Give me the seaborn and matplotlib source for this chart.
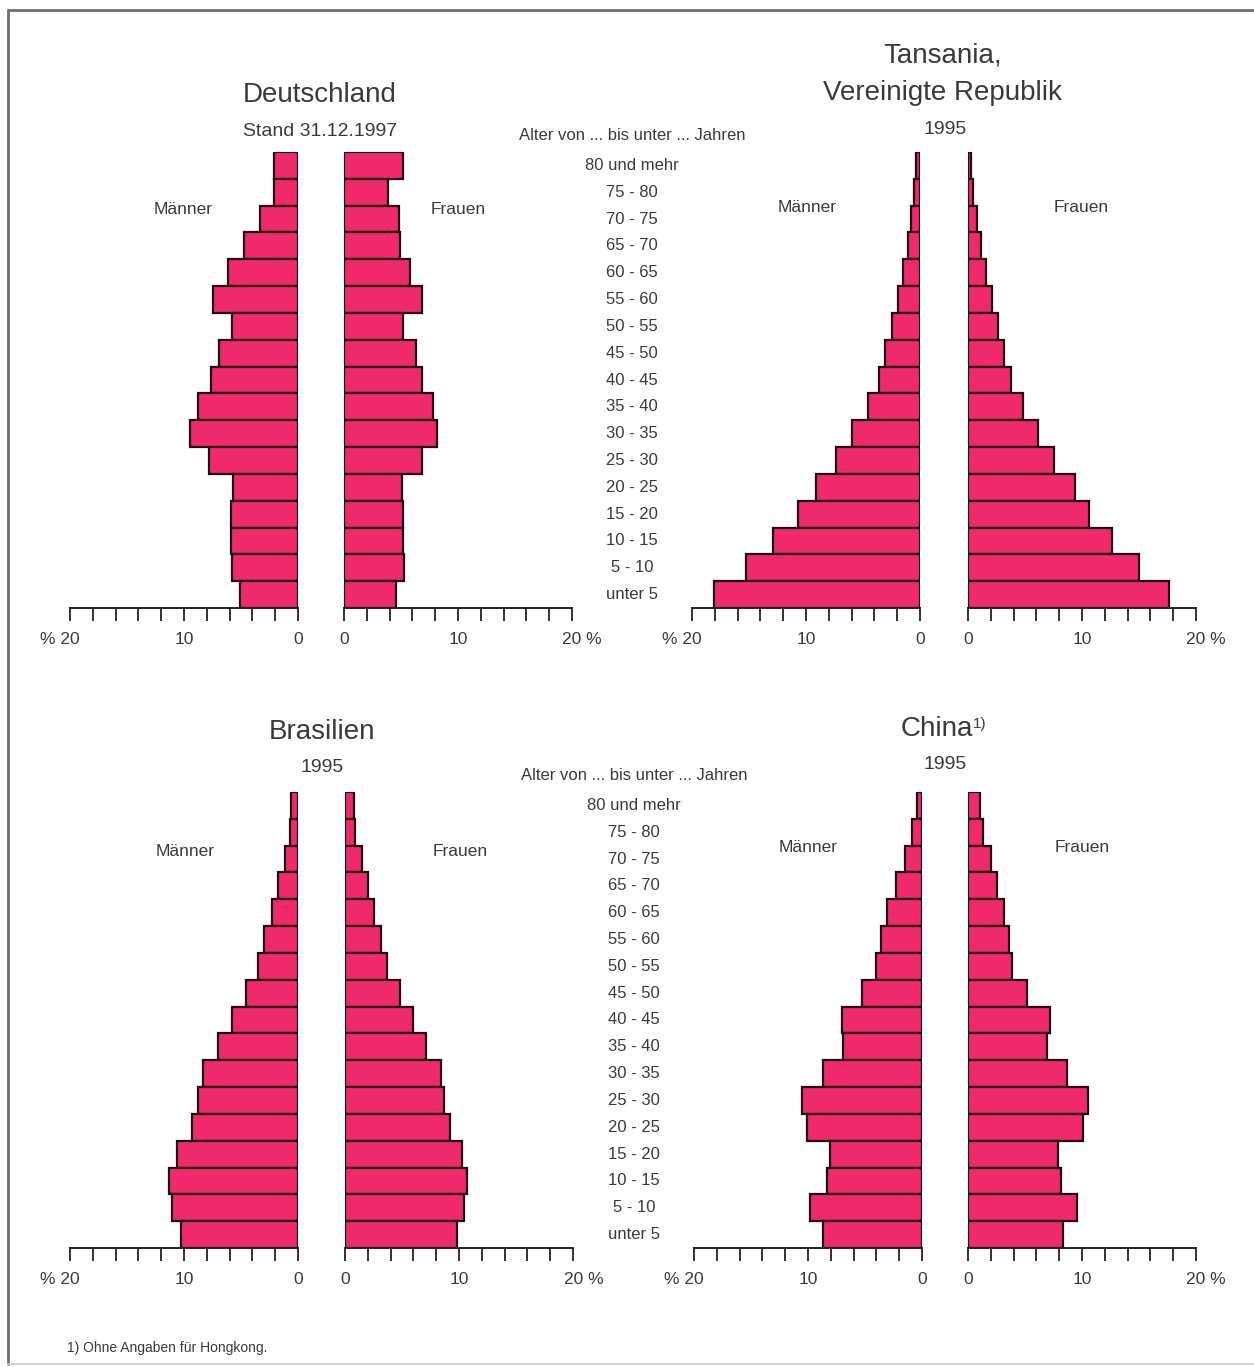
"""Bevölkerungspyramiden: Deutschland, Tansania, Brasilien, China."""

import matplotlib

matplotlib.use("Agg")
import matplotlib.pyplot as plt
import matplotlib.transforms as mtransforms
import pandas as pd
import seaborn as sns
from matplotlib.lines import Line2D

AGES = [
    "80 und mehr", "75 - 80", "70 - 75", "65 - 70", "60 - 65", "55 - 60",
    "50 - 55", "45 - 50", "40 - 45", "35 - 40", "30 - 35", "25 - 30",
    "20 - 25", "15 - 20", "10 - 15", "5 - 10", "unter 5",
]

# percent of population, top (80+) to bottom (unter 5)
DE_MEN = [2.1, 2.1, 3.3, 4.7, 6.1, 7.5, 5.8, 6.9, 7.6, 8.8, 9.5, 7.8, 5.7, 5.9, 5.9, 5.8, 5.1]
DE_WOMEN = [5.2, 3.9, 4.8, 4.9, 5.8, 6.8, 5.2, 6.3, 6.8, 7.8, 8.2, 6.8, 5.1, 5.2, 5.2, 5.3, 4.6]
TZ_MEN = [0.35, 0.5, 0.8, 1.05, 1.5, 1.9, 2.5, 3.1, 3.6, 4.6, 6.0, 7.4, 9.1, 10.7, 12.9, 15.3, 18.1]
TZ_WOMEN = [0.3, 0.45, 0.8, 1.15, 1.6, 2.1, 2.6, 3.2, 3.8, 4.8, 6.1, 7.5, 9.4, 10.6, 12.6, 15.0, 17.6]
BR_MEN = [0.6, 0.7, 1.1, 1.75, 2.3, 3.0, 3.5, 4.6, 5.8, 7.0, 8.3, 8.8, 9.3, 10.6, 11.3, 11.05, 10.3]
BR_WOMEN = [0.8, 0.9, 1.5, 2.0, 2.5, 3.2, 3.7, 4.8, 6.0, 7.1, 8.4, 8.7, 9.2, 10.3, 10.7, 10.4, 9.8]
CN_MEN = [0.45, 0.9, 1.5, 2.3, 3.1, 3.6, 4.0, 5.3, 7.0, 6.9, 8.7, 10.5, 10.1, 8.1, 8.3, 9.8, 8.7]
CN_WOMEN = [1.05, 1.3, 2.0, 2.5, 3.2, 3.6, 3.9, 5.2, 7.2, 6.9, 8.7, 10.5, 10.1, 7.9, 8.2, 9.6, 8.3]

BAR = "#ee2a6c"
EDGE = "#22080f"
INK = "#3a3a3a"
W, H = 1254, 1367

sns.set_style("white")
plt.rcParams["font.family"] = ["Liberation Sans", "DejaVu Sans"]

fig = plt.figure(figsize=(W / 100, H / 100), dpi=100)


def px_box(x0, x1, ytop, ybot):
    return [x0 / W, 1 - ybot / H, (x1 - x0) / W, (ybot - ytop) / H]


def ftext(x, y, s, size, **kw):
    return fig.text(x / W, 1 - y / H, s, ha=kw.pop("ha", "center"), va=kw.pop("va", "center"),
                    fontsize=size, color=INK, **kw)


def draw_half(box, values, side):
    ax = fig.add_axes(px_box(*box))
    df = pd.DataFrame({"age": AGES, "pct": values})
    sns.barplot(data=df, x="pct", y="age", orient="h", color=BAR, saturation=1,
                edgecolor=EDGE, linewidth=1.6, width=1.0, ax=ax)
    ax.set_ylim(len(AGES) - 0.5, -0.5)
    ax.set_xlim((20, 0) if side == "m" else (0, 20))
    for s in ("left", "top", "right"):
        ax.spines[s].set_visible(False)
    ax.spines["bottom"].set_color("#222")
    ax.spines["bottom"].set_linewidth(1.4)
    ax.set(xlabel=None, ylabel=None)
    ax.set_yticks([])
    ax.set_xticks([0, 10, 20])
    ax.set_xticks(range(2, 20, 2), minor=True)
    ax.tick_params(axis="x", which="both", direction="out", length=9, width=1.3,
                   color="#222", bottom=True)
    ax.tick_params(axis="x", which="major", labelsize=12.5, labelcolor=INK, pad=8)
    if side == "m":
        labels = ["0", "10", "% 20"]
    else:
        labels = ["0", "10", "20 %"]
    ax.set_xticklabels(labels)
    shift = 9.5 / 100
    for lab in ax.get_xticklabels():
        if lab.get_text() == "% 20":
            lab.set_ha("right")
            lab.set_transform(lab.get_transform() + mtransforms.ScaledTranslation(shift, 0, fig.dpi_scale_trans))
        elif lab.get_text() == "20 %":
            lab.set_ha("left")
            lab.set_transform(lab.get_transform() + mtransforms.ScaledTranslation(-shift, 0, fig.dpi_scale_trans))
    return ax


# top row
de_w = draw_half((344, 572, 152, 608), DE_WOMEN, "w")
draw_half((70, 298, 152, 608), DE_MEN, "m")
draw_half((692, 920, 152, 608), TZ_MEN, "m")
draw_half((968, 1196, 152, 608), TZ_WOMEN, "w")
# bottom row
br_w = draw_half((345, 573, 792, 1248), BR_WOMEN, "w")
draw_half((70, 298, 792, 1248), BR_MEN, "m")
draw_half((694, 922, 792, 1248), CN_MEN, "m")
draw_half((968, 1196, 792, 1248), CN_WOMEN, "w")

# age labels in the middle column, aligned with the bar categories
for ax, xc, yh in ((de_w, 632, 135), (br_w, 634, 775)):
    trans = mtransforms.blended_transform_factory(fig.transFigure, ax.transData)
    for i, age in enumerate(AGES):
        ax.text(xc / W, i, age, transform=trans, ha="center", va="center",
                fontsize=12, color=INK, clip_on=False)
    ftext(xc, yh, "Alter von ... bis unter ... Jahren", 12)

# titles
ftext(320, 95, "Deutschland", 20)
ftext(320, 131, "Stand 31.12.1997", 14)
ftext(943, 56, "Tansania,", 20)
ftext(943, 93, "Vereinigte Republik", 20)
ftext(945, 129, "1995", 14)
ftext(322, 732, "Brasilien", 20)
ftext(322, 767, "1995", 14)
china = ftext(937, 729, "China", 20)
fig.add_artist(plt.Annotation("1)", xy=(1, 1), xycoords=china, xytext=(0, -1),
                              textcoords="offset points", ha="left", va="top",
                              fontsize=11, color=INK))
ftext(945, 765, "1995", 14)

# Männer / Frauen
for x, y, s in ((183, 210, "Männer"), (458, 209, "Frauen"),
                (807, 208, "Männer"), (1081, 208, "Frauen"),
                (185, 851, "Männer"), (460, 851, "Frauen"),
                (808, 848, "Männer"), (1082, 847, "Frauen")):
    ftext(x, y, s, 12.5)

ftext(67, 1348, "1) Ohne Angaben für Hongkong.", 10, ha="left")

# frame
frame = dict(transform=fig.transFigure, color="#6e6e6e", linewidth=2)
fig.add_artist(Line2D([8 / W, 1], [1 - 10 / H, 1 - 10 / H], **frame))
fig.add_artist(Line2D([8 / W, 8 / W], [1 - 10 / H, 1 - 1364 / H], **frame))
fig.add_artist(Line2D([8 / W, 1], [1 - 1364 / H, 1 - 1364 / H], transform=fig.transFigure,
                      color="#c8c8c8", linewidth=1.2))

fig.savefig("out.png", dpi=100, facecolor="white")
